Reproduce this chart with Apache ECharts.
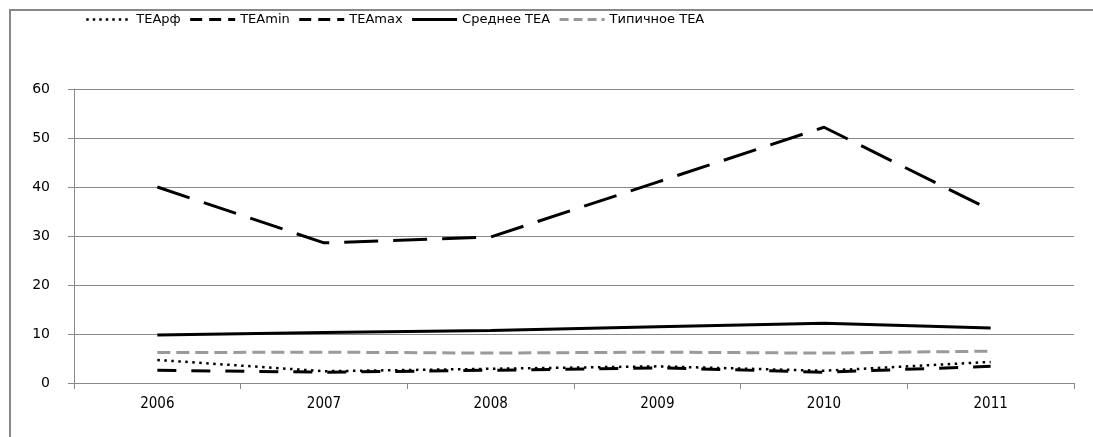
<!DOCTYPE html>
<html><head><meta charset="utf-8">
<script src="https://cdn.jsdelivr.net/npm/echarts@6/dist/echarts.min.js"></script>
<style>html,body{margin:0;padding:0;background:#fff}#c{width:1093px;height:437px}</style>
</head><body><div id="c"></div>
<script>
const years = ['2006','2007','2008','2009','2010','2011'];
const teaRf = [4.7, 2.4, 2.9, 3.4, 2.5, 4.3];
const teaMin = [2.6, 2.2, 2.6, 3.1, 2.2, 3.4];
const teaMax = [40.0, 28.6, 29.8, 41.0, 52.2, 35.3];
const teaAvg = [9.8, 10.3, 10.7, 11.5, 12.2, 11.2];
const teaTyp = [6.2, 6.3, 6.1, 6.3, 6.1, 6.5];
const yTicks = [0, 10, 20, 30, 40, 50, 60];

const font = '"DejaVu Sans", Verdana, sans-serif';
function line(name, data, color, width, type) {
  return { name, type: 'line', data, symbol: 'none', showSymbol: false, animation: false,
    lineStyle: { color, width, type, cap: 'butt' }, itemStyle: { color }, z: 3 };
}
function leg(name, color, width, type) {
  return { name, itemStyle: { opacity: 0 }, lineStyle: { color, width, type, cap: 'butt' } };
}
const chart = echarts.init(document.getElementById('c'), null, { renderer: 'canvas' });
chart.setOption({
  backgroundColor: '#fff',
  animation: false,
  graphic: [{ type: 'rect', shape: { x: 10, y: 10, width: 1200, height: 600 }, style: { fill: 'none', stroke: '#878787', lineWidth: 2 }, silent: true, z: 0 }],
  legend: {
    top: 8, left: 80, itemWidth: 45, itemHeight: 12, itemGap: 8,
    itemStyle: { opacity: 0 },
    textStyle: { fontFamily: font, fontSize: 13, color: '#000' },
    data: [
      leg('TEAрф', '#000', 2.5, [2.5, 4]),
      leg('TEAmin', '#000', 3, [12, 7]),
      leg('TEAmax', '#000', 3, [12, 7]),
      leg('Среднее TEA', '#000', 3, 'solid'),
      leg('Типичное TEA', '#9a9a9a', 3, [9, 5])
    ]
  },
  grid: { left: 74, right: 19, top: 89, bottom: 54, containLabel: false },
  xAxis: {
    type: 'category', data: years, boundaryGap: true,
    axisLine: { lineStyle: { color: '#888', width: 1 } },
    axisTick: { show: true, length: 6, lineStyle: { color: '#888' } },
    axisLabel: { fontFamily: '"DejaVu Sans Condensed", "Liberation Sans Narrow", sans-serif', fontSize: 15, color: '#000', margin: 14 }
  },
  yAxis: {
    type: 'value', min: yTicks[0], max: yTicks[yTicks.length - 1], interval: 10,
    axisLine: { show: true, lineStyle: { color: '#888', width: 1 } },
    axisTick: { show: true, length: 6, lineStyle: { color: '#888' } },
    splitLine: { lineStyle: { color: '#888', width: 1 } },
    axisLabel: { fontFamily: font, fontSize: 14, color: '#000', margin: 24 }
  },
  series: [
    line('TEAрф', teaRf, '#000', 2.5, [2.5, 4.5]),
    line('TEAmin', teaMin, '#000', 3, [19, 15]),
    line('TEAmax', teaMax, '#000', 3, [34, 15]),
    line('Среднее TEA', teaAvg, '#000', 3, 'solid'),
    line('Типичное TEA', teaTyp, '#9a9a9a', 3, [13, 6])
  ]
});
</script></body></html>
